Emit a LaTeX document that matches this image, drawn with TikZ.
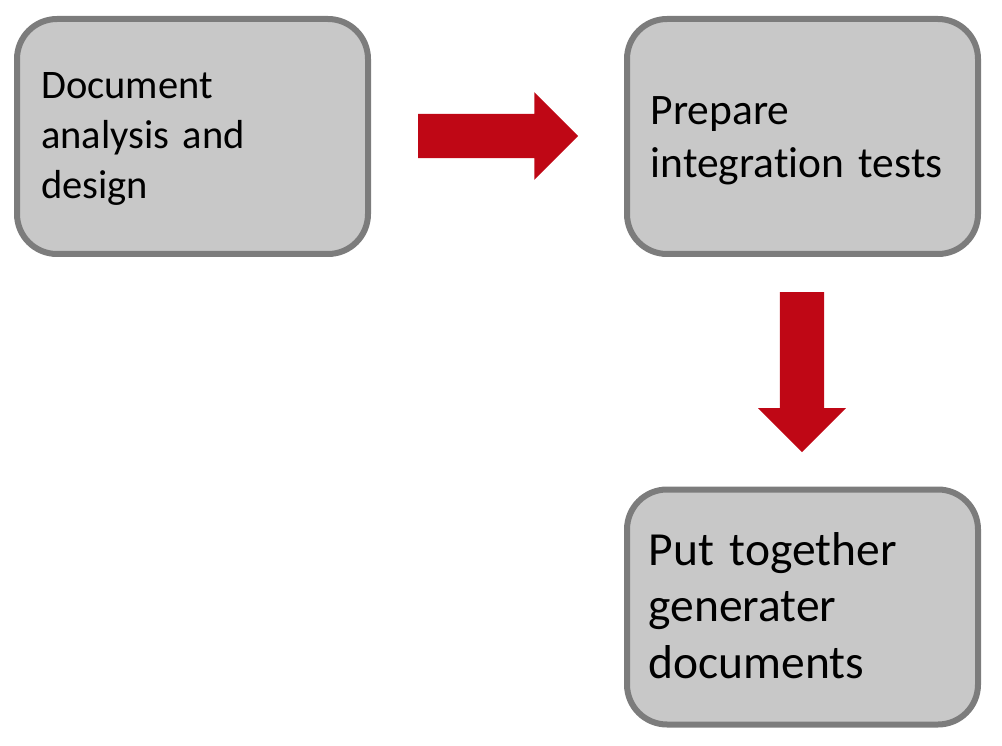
\documentclass[tikz,border=0pt]{standalone}
\usepackage{fontspec}
\setmainfont[Ligatures=NoCommon]{Carlito}
\usetikzlibrary{shapes.arrows}
\definecolor{boxfill}{RGB}{200,200,200}
\definecolor{boxline}{RGB}{124,124,124}
\definecolor{arrowred}{RGB}{191,7,21}
\tikzset{stage/.style={draw=boxline, fill=boxfill, line width=6pt,
         rounded corners=40pt, minimum width=351pt, minimum height=235pt,
         inner sep=0pt},
         stagetext/.style={anchor=base west, align=left, text width=320pt,
         inner sep=0pt},
         flow/.style={single arrow, fill=arrowred, minimum height=160pt,
         inner xsep=0pt, inner ysep=22pt, single arrow head extend=21.75pt,
         single arrow head indent=0pt, anchor=tail}}

\begin{document}
\begin{tikzpicture}[x=1pt,y=1pt]
  \useasboundingbox (0,0) rectangle (1002,-746);
  \node[stage] (analysis) at (192.5,-136.5) {};
  \node[stage] (tests) at (802.5,-136.5) {};
  \node[stage] (documents) at (802.5,-607) {};
  \node[stagetext,font=\fontsize{40.5}{49.7}\selectfont] (analysis text) at (41,-99) {Document\\analysis and\\design};
  \node[stagetext,font=\fontsize{43.5}{53}\selectfont] (tests text) at (650.5,-125) {Prepare\\integration tests};
  \node[stagetext,font=\fontsize{47.5}{56.5}\selectfont] (documents text) at (648.5,-565) {Put together\\generater\\documents};
  \node[flow] (to tests) at (418,-136) {};
  \node[flow,shape border rotate=270,inner xsep=22pt,inner ysep=0pt] (to documents) at (802,-292) {};
\end{tikzpicture}
\end{document}
